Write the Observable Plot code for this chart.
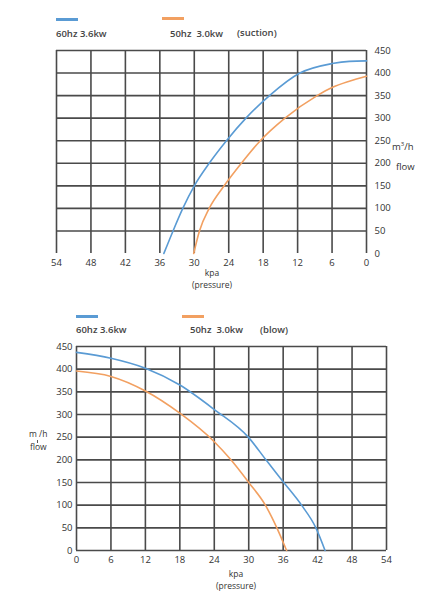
<!DOCTYPE html>
<html>
<head>
<meta charset="utf-8">
<script src="https://cdn.jsdelivr.net/npm/d3@7"></script>
<script src="https://cdn.jsdelivr.net/npm/@observablehq/plot@0.6"></script>
<style>
  body { margin: 0; background: #fff; font-family: "Open Sans", sans-serif; color: #333; }
  .panel { position: relative; width: 448px; height: 300px; }
  .panel svg { position: absolute; left: 0; top: 0; }
  .lbl { position: absolute; font-size: 9.5px; white-space: pre; line-height: 1; }
  .leg { font-weight: 600; color: #444; }
  .sw { position: absolute; height: 3px; width: 22px; }
  .c { transform: translateX(-50%); text-align: center; font-size: 8.5px; }
  .yl { font-size: 8.5px; }
</style>
</head>
<body>
<div id="suction" class="panel"></div>
<div id="blow" class="panel"></div>
<script>
// series colours
const blue = '#5a9bd4'
const orange = '#f2a061'

const xTicks = [0, 6, 12, 18, 24, 30, 36, 42, 48, 54]
const yTicks = [0, 50, 100, 150, 200, 250, 300, 350, 400, 450]

// suction (top chart)
const suctionKpa60 = [35.3, 33.7, 32.0, 30.0, 27.4, 24.4, 21.0, 16.9, 11.6, 6, 3, 0]
const suctionFlow60 = [0, 50, 100, 150, 200, 250, 300, 350, 400, 421, 426, 427]
const suctionKpa50 = [30.1, 29.1, 27.4, 24.8, 21.8, 18.5, 14.2, 8.6, 6, 3, 0]
const suctionFlow50 = [0, 50, 100, 150, 200, 250, 300, 350, 368, 382, 393]

// blow (bottom chart)
const blowKpa60 = [0, 6, 12, 18, 24, 30, 33.0, 36.1, 39.2, 41.7, 43.3]
const blowFlow60 = [437, 424, 402, 365, 311, 249, 200, 150, 100, 50, 0]
const blowKpa50 = [0, 6, 12, 18, 24, 26.9, 30, 32.9, 34.9, 36.6]
const blowFlow50 = [396, 384, 352, 303, 240, 200, 150, 100, 50, 0]

const pts = (k, f) => k.map((d, i) => ({kpa: d, flow: f[i]}))

const gridStyle = {stroke: '#4a4a4a', strokeOpacity: 1, strokeWidth: 1.6}

function chart(opts, s60, s50) {
  return Plot.plot({
    width: 448,
    height: 300,
    marginLeft: opts.ml,
    marginRight: opts.mr,
    marginTop: opts.mt,
    marginBottom: opts.mb,
    x: {domain: opts.xdomain, label: null},
    y: {domain: [0, 450], label: null},
    style: {fontFamily: '"Open Sans", sans-serif', fontSize: '9.5px', color: '#333'},
    marks: [
      Plot.gridX(xTicks, gridStyle),
      // the suction chart has no line along its bottom edge
      Plot.gridY(opts.frameBottom ? yTicks : yTicks.slice(1), gridStyle),
      Plot.axisX(xTicks, {tickSize: 0, tickPadding: 6, label: null}),
      Plot.axisY(yTicks, {anchor: opts.yanchor, tickSize: 0, tickPadding: opts.ypad, label: null}),
      Plot.line(s60, {x: 'kpa', y: 'flow', stroke: blue, strokeWidth: 1.6, curve: 'monotone-x'}),
      Plot.line(s50, {x: 'kpa', y: 'flow', stroke: orange, strokeWidth: 1.6, curve: 'monotone-x'}),
    ],
  })
}

function addText(panel, html, x, y, cls) {
  const el = document.createElement('div')
  el.className = 'lbl ' + (cls || '')
  el.innerHTML = html
  el.style.left = x + 'px'
  el.style.top = y + 'px'
  panel.appendChild(el)
  return el
}

function addSwatch(panel, color, x, y, w, h) {
  const el = document.createElement('div')
  el.className = 'sw'
  el.style.background = color
  el.style.left = x + 'px'
  el.style.top = y + 'px'
  if (w) el.style.width = w + 'px'
  if (h) el.style.height = h + 'px'
  panel.appendChild(el)
}

// top: suction
const topPanel = document.getElementById('suction')
topPanel.appendChild(chart(
  {ml: 56, mr: 82, mt: 50, mb: 47, xdomain: [54, 0], yanchor: 'right', ypad: 8, frameBottom: false},
  pts(suctionKpa60, suctionFlow60), pts(suctionKpa50, suctionFlow50)
))
addSwatch(topPanel, blue, 56, 18)
addSwatch(topPanel, orange, 162, 17)
addText(topPanel, '60hz 3.6kw', 56, 29, 'leg')
addText(topPanel, '50hz  3.0kw', 170, 29, 'leg')
addText(topPanel, '(suction)', 237, 28, 'leg')
addText(topPanel, 'kpa', 212, 269, 'c')
addText(topPanel, '(pressure)', 212, 281, 'c')
addText(topPanel, 'm<sup style="font-size:6px">3</sup>/h', 392, 141)
addText(topPanel, 'flow', 396, 162)

// bottom: blow
const bottomPanel = document.getElementById('blow')
bottomPanel.appendChild(chart(
  {ml: 76, mr: 62, mt: 46, mb: 50, xdomain: [0, 54], yanchor: 'left', ypad: 4, frameBottom: true},
  pts(blowKpa60, blowFlow60), pts(blowKpa50, blowFlow50)
))
addSwatch(bottomPanel, blue, 76, 15)
addSwatch(bottomPanel, orange, 182, 15)
addText(bottomPanel, '60hz 3.6kw', 76, 25, 'leg')
addText(bottomPanel, '50hz  3.0kw', 190, 25, 'leg')
addText(bottomPanel, '(blow)', 260, 25, 'leg')
addText(bottomPanel, 'kpa', 236, 270, 'c')
addText(bottomPanel, '(pressure)', 236, 282, 'c')
addText(bottomPanel, 'm /h', 29, 130, 'yl')
addSwatch(bottomPanel, '#555', 37, 140, 1, 3)
addText(bottomPanel, 'flow', 30, 143, 'yl')
</script>
</body>
</html>
